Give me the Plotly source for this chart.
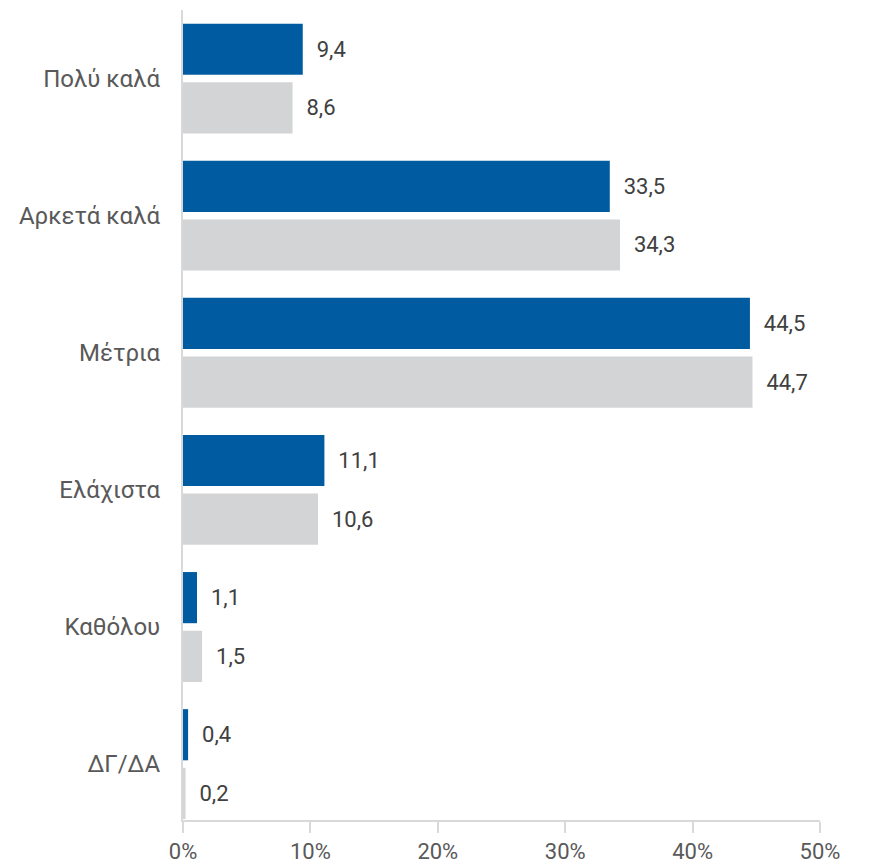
import plotly.graph_objects as go

categories = ["Πολύ καλά", "Αρκετά καλά", "Μέτρια", "Ελάχιστα", "Καθόλου", "ΔΓ/ΔΑ"]
series_blue = [9.4, 33.5, 44.5, 11.1, 1.1, 0.4]
series_gray = [8.6, 34.3, 44.7, 10.6, 1.5, 0.2]
tick_vals = [0, 10, 20, 30, 40, 50]
tick_text = ["0%", "10%", "20%", "30%", "40%", "50%"]

font_family = "Roboto, 'Noto Sans', sans-serif"

fig = go.Figure()
for vals, color in [(series_blue, "#005BA1"), (series_gray, "#D3D4D6")]:
    fig.add_trace(go.Bar(
        y=categories, x=vals, orientation="h",
        marker=dict(color=color, line=dict(width=0)),
        texttemplate="\u00a0\u00a0%{x:.1f}",
        textposition="outside",
        constraintext="none",
        textfont=dict(size=22, color="#404040", family=font_family),
        cliponaxis=False,
        showlegend=False,
    ))

fig.update_layout(
    width=862, height=859,
    margin=dict(l=175, r=50, t=2, b=47),
    barmode="group", bargap=0.144, bargroupgap=0.128,
    separators=",.",
    plot_bgcolor="white", paper_bgcolor="white",
    font=dict(family=font_family, size=22, color="#595959"),
)
fig.update_xaxes(
    range=[0, 50], tickvals=tick_vals, ticktext=tick_text,
    showgrid=False, zeroline=False, automargin=False,
    showline=True, linecolor="#D9D9D9", linewidth=2,
    ticks="outside", ticklen=11, tickcolor="#D9D9D9", tickwidth=2,
    tickfont=dict(size=22, color="#595959"),
)
fig.update_yaxes(
    range=[5.408, -0.5], showgrid=False, zeroline=False, automargin=False,
    showline=True, linecolor="#D9D9D9", linewidth=2,
    ticks="", ticklabelstandoff=16,
    tickfont=dict(size=24, color="#595959"),
)

fig.write_html("out.html")
